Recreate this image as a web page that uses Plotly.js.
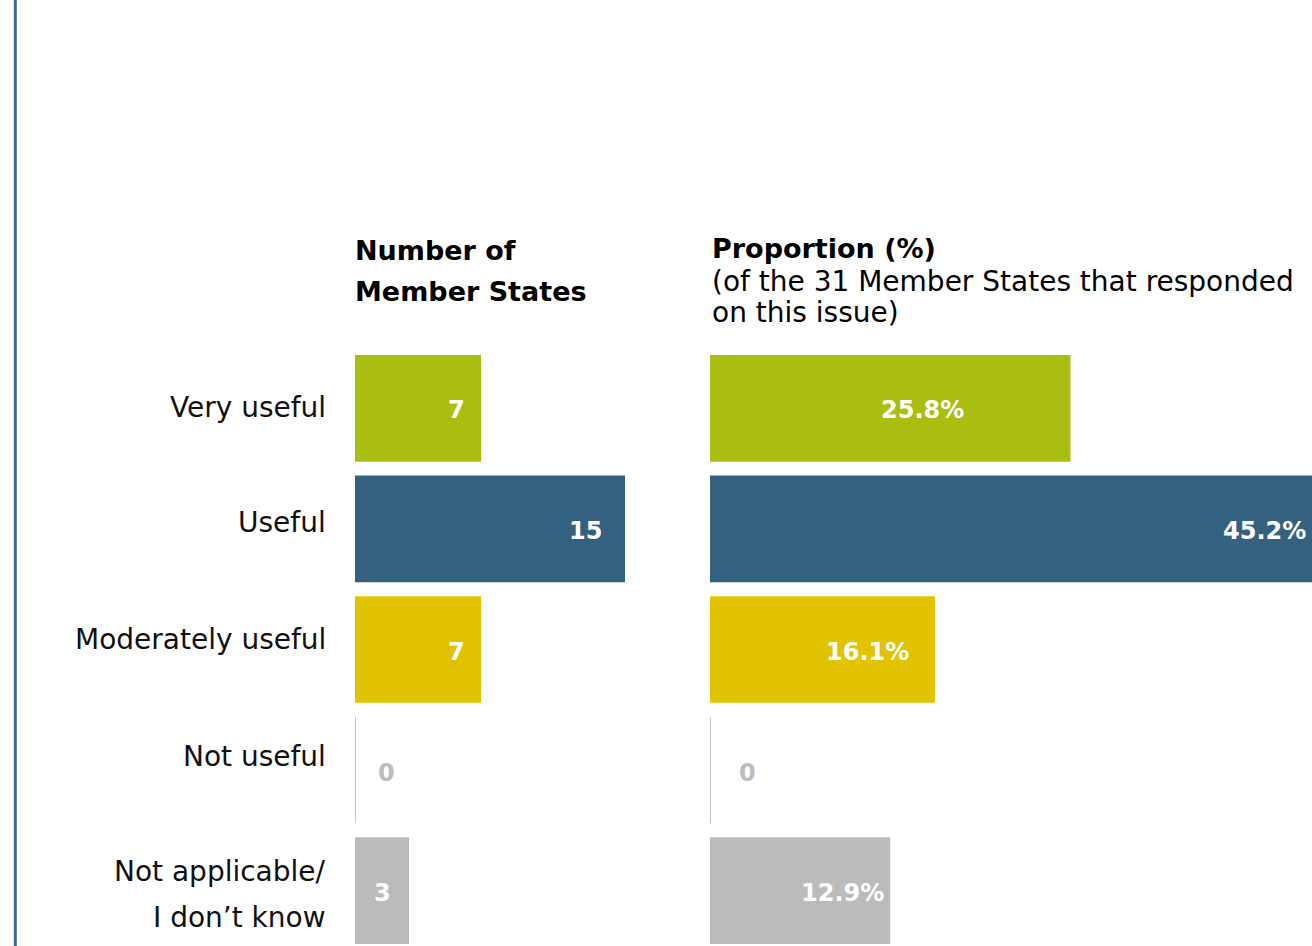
<!DOCTYPE html>
<html>
<head>
<meta charset="utf-8">
<script src="https://cdn.plot.ly/plotly-3.0.1.min.js"></script>
<style>
html,body{margin:0;padding:0;overflow:hidden;background:#fff;}
#chart{width:1350px;height:951px;}
</style>
</head>
<body>
<div id="chart"></div>
<script>
// ---- data ----
const categories = ['Very useful', 'Useful', 'Moderately useful', 'Not useful', 'Not applicable/<br>I don’t know'];
const counts = [7, 15, 7, 0, 3];
const percents = [25.8, 45.2, 16.1, 0, 12.9];
const countLabels = ['7', '15', '7', '0', '3'];
const percentLabels = ['25.8%', '45.2%', '16.1%', '0', '12.9%'];
const colors = ['#aabd11', '#34617f', '#e1c300', '#bbbbbb', '#bbbbbb'];
const headerLeft = ['Number of', 'Member States'];
const headerRightBold = 'Proportion (%)';
const headerRightSub = ['(of the 31 Member States that responded', 'on this issue)'];

// ---- style ----
const W = 1350, H = 951;
const FONT = 'DejaVu Sans, sans-serif';
const FONTB = 'DejaVu Sans, sans-serif';
const leftPad = [14, 21, 14, 0, 16];
const rightPad = [104, 33, 24, 0, 4];
const catDy = [1, 6, 10, 14, -4];
const plotTop = 348;

const xLeftDom = [355 / W, 700 / W];
const xRightDom = [710 / W, 1];
const xLeftRange = [0, (700 - 355) / 18];
const xRightRange = [0, (W - 710) / 13.97];

const traces = [
  {type: 'bar', orientation: 'h', x: counts, y: categories, xaxis: 'x', yaxis: 'y',
   marker: {color: colors}, width: 0.885, hoverinfo: 'skip'},
  {type: 'bar', orientation: 'h', x: percents, y: categories, xaxis: 'x2', yaxis: 'y',
   marker: {color: colors}, width: 0.885, hoverinfo: 'skip'}
];

const annotations = [];
const shapes = [];
const py = p => 1 - p / H;

// category labels
categories.forEach((c, i) => {
  const lines = c.split('<br>');
  lines.forEach((ln, k) => {
    const off = (k - (lines.length - 1) / 2) * 46;
    annotations.push({xref: 'x', yref: 'y', x: 0, y: i, xanchor: 'right', yanchor: 'middle',
      xshift: -27, yshift: catDy[i] - off, text: ln, showarrow: false,
      font: {family: FONT, size: 28, color: '#111111'}});
  });
});

// value labels
function addValueLabels(vals, labels, pads, xref, zeroPad) {
  vals.forEach((v, i) => {
    if (v === 0) {
      annotations.push({xref: xref, yref: 'y', x: 0, y: i, xanchor: 'left', yanchor: 'middle',
        xshift: zeroPad, yshift: -3, text: '<b>' + labels[i] + '</b>', showarrow: false,
        font: {family: FONTB, size: 24, color: '#bdbdbd'}});
      shapes.push({type: 'line', xref: xref, yref: 'y', x0: 0, x1: 0, y0: i - 0.44, y1: i + 0.44,
        line: {color: '#b5b5b5', width: 1.5}});
    } else {
      annotations.push({xref: xref, yref: 'y', x: v, y: i, xanchor: 'right', yanchor: 'middle',
        xshift: -pads[i], yshift: -2, text: '<b>' + labels[i] + '</b>', showarrow: false,
        font: {family: FONTB, size: 24, color: '#ffffff'}});
    }
  });
}
addValueLabels(counts, countLabels, leftPad, 'x', 21);
addValueLabels(percents, percentLabels, rightPad, 'x2', 27);

// headers
headerLeft.forEach((t, k) => {
  annotations.push({xref: 'x domain', yref: 'paper', x: 0, y: py(250.5 + k * 40.5), xanchor: 'left',
    yanchor: 'middle', xshift: -2, text: '<b>' + t + '</b>', showarrow: false,
    font: {family: FONTB, size: 27, color: '#000000'}});
});
annotations.push({xref: 'x2 domain', yref: 'paper', x: 0, y: py(249), xanchor: 'left',
  yanchor: 'middle', xshift: 0, text: '<b>' + headerRightBold + '</b>', showarrow: false,
  font: {family: FONTB, size: 27, color: '#000000'}});
headerRightSub.forEach((t, k) => {
  annotations.push({xref: 'x2 domain', yref: 'paper', x: 0, y: py(282 + k * 31), xanchor: 'left',
    yanchor: 'middle', xshift: 0, text: t, showarrow: false,
    font: {family: FONT, size: 28, color: '#000000'}});
});

// left frame line
shapes.push({type: 'line', xref: 'paper', yref: 'paper', x0: 15.3 / W, x1: 15.3 / W, y0: 0, y1: 1,
  line: {color: '#3d6a8f', width: 3}});

const layout = {
  width: W, height: H,
  margin: {l: 0, r: 0, t: 0, b: 0},
  paper_bgcolor: '#ffffff', plot_bgcolor: '#ffffff',
  showlegend: false,
  xaxis: {domain: xLeftDom, range: xLeftRange, visible: false, fixedrange: true},
  xaxis2: {domain: xRightDom, range: xRightRange, visible: false, fixedrange: true, anchor: 'y'},
  yaxis: {domain: [0, 1 - plotTop / H], type: 'category', range: [4.5, -0.5],
    showticklabels: false, showgrid: false, zeroline: false, showline: false, ticks: '', fixedrange: true},
  annotations: annotations,
  shapes: shapes,
  bargap: 0.1
};

Plotly.newPlot('chart', traces, layout, {displayModeBar: false, staticPlot: true});
</script>
</body>
</html>
